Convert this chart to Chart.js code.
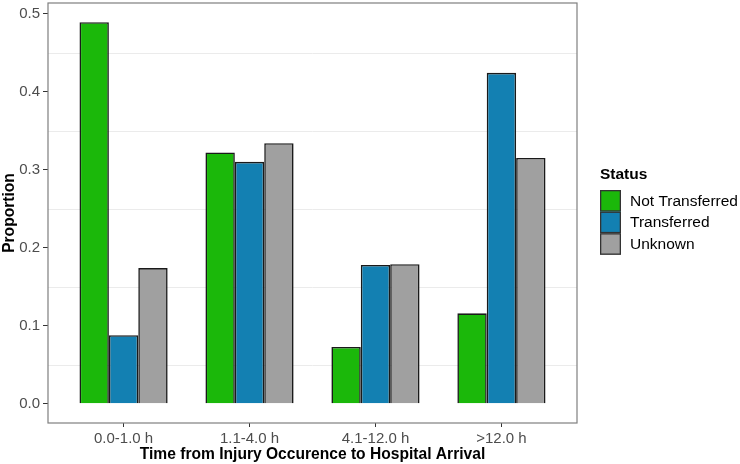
<!DOCTYPE html>
<html>
<head>
<meta charset="utf-8">
<script src="https://cdn.jsdelivr.net/npm/chart.js@4"></script>
<style>
  html, body { margin: 0; padding: 0; background: #ffffff; }
  #wrap { width: 740px; height: 464px; position: relative; }
</style>
</head>
<body>
<div id="wrap"><canvas id="c" width="740" height="464"></canvas></div>
<script>
// ---- data ----
const categories = ["0.0-1.0 h", "1.1-4.0 h", "4.1-12.0 h", ">12.0 h"];
const seriesNames = ["Not Transferred", "Transferred", "Unknown"];
const notTransferred = [0.489, 0.322, 0.073, 0.116];
const transferred = [0.088, 0.310, 0.178, 0.424];
const unknown = [0.174, 0.334, 0.179, 0.315];
const yTicks = [0.0, 0.1, 0.2, 0.3, 0.4, 0.5];
const yMinorGrid = [0.05, 0.15, 0.25, 0.35, 0.45];

const colors = ["#1bb80a", "#1380b2", "#a0a0a0"];
const FONT = "'Liberation Sans', Arial, Helvetica, sans-serif";

const seriesValues = [notTransferred, transferred, unknown];
const datasets = seriesValues.map((vals, i) => ({
  label: seriesNames[i],
  data: vals.map((v, j) => ({ x: j + 1, y: v })),
  backgroundColor: colors[i],
  borderColor: "#1a1a1a",
  borderWidth: 1.6,
  categoryPercentage: 0.7,
  barPercentage: 1.0
}));

const panelPlugin = {
  id: "panel",
  beforeDatasetsDraw(chart) {
    const { ctx, chartArea: a, scales } = chart;
    ctx.save();
    ctx.strokeStyle = "#ebebeb";
    ctx.lineWidth = 1;
    yMinorGrid.forEach(v => {
      const y = Math.round(scales.y.getPixelForValue(v)) + 0.5;
      ctx.beginPath();
      ctx.moveTo(a.left, y);
      ctx.lineTo(a.right, y);
      ctx.stroke();
    });
    ctx.restore();
  },
  afterDatasetsDraw(chart) {
    const { ctx, chartArea: a } = chart;
    ctx.save();
    ctx.strokeStyle = "#7f7f7f";
    ctx.lineWidth = 1.2;
    ctx.strokeRect(a.left, a.top, a.right - a.left, a.bottom - a.top);
    ctx.restore();
  },
  afterDraw(chart) {
    const { ctx } = chart;
    ctx.save();
    const x0 = 600, keyW = 21, keyH = 21.6, y0 = 190;
    ctx.fillStyle = "#000";
    ctx.font = "bold 15.5px " + FONT;
    ctx.textBaseline = "middle";
    ctx.textAlign = "left";
    ctx.fillText("Status", x0, 175);
    chart.data.datasets.forEach((ds, i) => {
      const y = y0 + i * keyH;
      ctx.fillStyle = ds.backgroundColor;
      ctx.fillRect(x0, y, keyW, keyH);
      ctx.strokeStyle = "#333";
      ctx.lineWidth = 1.3;
      ctx.strokeRect(x0 + 0.65, y + 0.65, keyW - 1.3, keyH - 1.3);
      ctx.fillStyle = "#000";
      ctx.font = "15.5px " + FONT;
      ctx.fillText(ds.label, 630, y + keyH / 2 + 0.5);
    });
    ctx.restore();
  }
};

new Chart(document.getElementById("c"), {
  type: "bar",
  data: { datasets },
  plugins: [panelPlugin],
  options: {
    responsive: false,
    devicePixelRatio: 1,
    animation: false,
    layout: { padding: { top: 3, right: 163, left: 0, bottom: 0 } },
    plugins: { legend: { display: false }, tooltip: { enabled: false } },
    scales: {
      x: {
        type: "linear",
        min: 0.4,
        max: 4.6,
        offset: false,
        afterBuildTicks(scale) { scale.ticks = categories.map((c, i) => ({ value: i + 1 })); },
        afterFit(scale) { scale.height = 41; scale.paddingLeft = 0; scale.paddingRight = 0; },
        ticks: {
          callback: (v) => categories[Math.round(v) - 1] || "",
          color: "#4d4d4d",
          font: { family: FONT, size: 15 },
          padding: 3,
          maxRotation: 0,
          autoSkip: false
        },
        grid: { offset: false, drawOnChartArea: false, drawTicks: true, tickLength: 4, color: "#333", lineWidth: 1 },
        border: { display: false },
        title: {
          display: true,
          text: "Time from Injury Occurence to Hospital Arrival",
          color: "#000",
          font: { family: FONT, size: 15.6, weight: "bold" },
          padding: { top: 0, bottom: 0 }
        }
      },
      y: {
        min: -0.0245,
        max: 0.5135,
        afterBuildTicks(scale) { scale.ticks = yTicks.map(v => ({ value: v })); },
        afterFit(scale) { scale.width = 48; scale.paddingTop = 0; scale.paddingBottom = 0; },
        ticks: {
          callback: (v) => Number(v).toFixed(1),
          color: "#4d4d4d",
          font: { family: FONT, size: 15 },
          padding: 3
        },
        grid: { drawOnChartArea: false, drawTicks: true, tickLength: 5, color: "#333", lineWidth: 1 },
        border: { display: false },
        title: {
          display: true,
          text: "Proportion",
          color: "#000",
          font: { family: FONT, size: 15.6, weight: "bold" },
          padding: { top: 0, bottom: 0 }
        }
      }
    }
  }
});
</script>
</body>
</html>
